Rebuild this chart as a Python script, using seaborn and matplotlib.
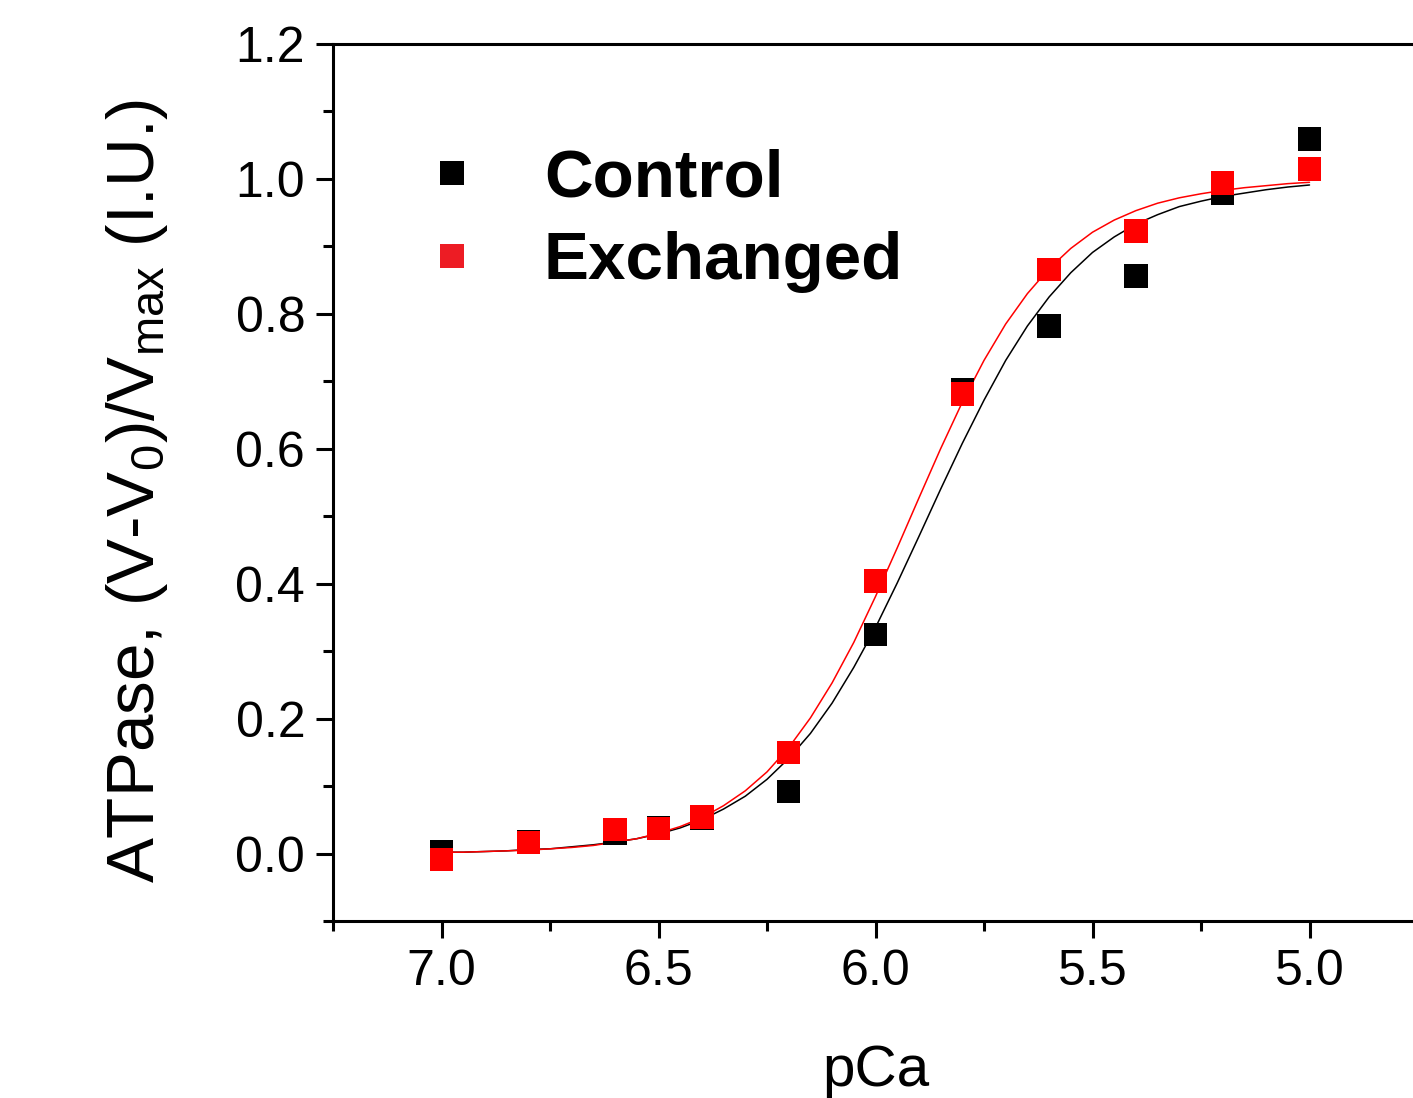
import matplotlib
matplotlib.use("Agg")
import matplotlib.pyplot as plt
from matplotlib.lines import Line2D
from matplotlib.ticker import MultipleLocator, FormatStrFormatter
import pandas as pd
import seaborn as sns

# measured points
pca = [7.0, 6.8, 6.6, 6.5, 6.4, 6.2, 6.0, 5.8, 5.6, 5.4, 5.2, 5.0]
control = [0.003, 0.018, 0.030, 0.039, 0.053, 0.092, 0.325, 0.687, 0.782, 0.856, 0.978, 1.059]
exchanged = [-0.009, 0.016, 0.036, 0.037, 0.054, 0.150, 0.404, 0.681, 0.866, 0.923, 0.994, 1.015]

# fitted curves
curve_pca = [7.00, 6.95, 6.90, 6.85, 6.80, 6.75, 6.70, 6.65, 6.60, 6.55, 6.50,
             6.45, 6.40, 6.35, 6.30, 6.25, 6.20, 6.15, 6.10, 6.05, 6.00,
             5.95, 5.90, 5.85, 5.80, 5.75, 5.70, 5.65, 5.60, 5.55, 5.50,
             5.45, 5.40, 5.35, 5.30, 5.25, 5.20, 5.15, 5.10, 5.05, 5.00]
curve_control = [0.002, 0.002, 0.003, 0.004, 0.006, 0.007, 0.010, 0.013, 0.017, 0.022, 0.029,
                 0.038, 0.050, 0.066, 0.085, 0.110, 0.141, 0.178, 0.223, 0.276, 0.335,
                 0.401, 0.470, 0.540, 0.608, 0.672, 0.731, 0.782, 0.825, 0.861, 0.891,
                 0.914, 0.933, 0.947, 0.959, 0.967, 0.974, 0.979, 0.984, 0.988, 0.991]
curve_exchanged = [0.002, 0.002, 0.003, 0.004, 0.005, 0.007, 0.009, 0.012, 0.017, 0.022, 0.030,
                   0.040, 0.053, 0.071, 0.093, 0.121, 0.157, 0.201, 0.253, 0.313, 0.381,
                   0.453, 0.527, 0.600, 0.669, 0.731, 0.785, 0.830, 0.867, 0.897, 0.921,
                   0.939, 0.953, 0.964, 0.972, 0.978, 0.983, 0.987, 0.990, 0.993, 0.995]

groups = ["Control", "Exchanged"]
colors = {"Control": "black", "Exchanged": "#ff0000"}
legend_colors = {"Control": "black", "Exchanged": "#ed1c24"}

sns.set_style("ticks")
plt.rcParams["font.family"] = ["Liberation Sans", "DejaVu Sans"]
plt.rcParams["mathtext.default"] = "regular"
plt.rcParams["text.color"] = "black"
plt.rcParams["axes.labelcolor"] = "black"
plt.rcParams["xtick.color"] = "black"
plt.rcParams["ytick.color"] = "black"
plt.rcParams["axes.edgecolor"] = "black"

points = pd.DataFrame({
    "pCa": pca + pca,
    "value": control + exchanged,
    "group": ["Control"] * len(pca) + ["Exchanged"] * len(pca),
})

fig = plt.figure(figsize=(14.13, 10.98), dpi=100)
ax = fig.add_axes([333 / 1413, 1 - 921 / 1098, 1085 / 1413, 877 / 1098])

# fit lines
sns.lineplot(x=curve_pca, y=curve_control, color=colors["Control"], lw=1.1,
             estimator=None, sort=False, ax=ax)
sns.lineplot(x=curve_pca, y=curve_exchanged, color=colors["Exchanged"], lw=1.1,
             estimator=None, sort=False, ax=ax)

# data points, red drawn over black
sns.scatterplot(data=points, x="pCa", y="value", hue="group", palette=colors,
                marker="s", s=285, linewidth=0, legend=False, zorder=3, ax=ax)

ax.set_xlim(7.25, 4.75)
ax.set_ylim(-0.1, 1.2)
ax.xaxis.set_major_locator(MultipleLocator(0.5))
ax.xaxis.set_minor_locator(MultipleLocator(0.25))
ax.yaxis.set_major_locator(MultipleLocator(0.2))
ax.yaxis.set_minor_locator(MultipleLocator(0.1))
ax.xaxis.set_major_formatter(FormatStrFormatter("%.1f"))
ax.yaxis.set_major_formatter(FormatStrFormatter("%.1f"))

for side in ["left", "bottom", "top", "right"]:
    ax.spines[side].set_linewidth(2.2)
ax.tick_params(which="major", direction="out", length=12, width=2.2,
               labelsize=36, pad=8)
ax.tick_params(which="minor", direction="out", length=7, width=2.2)
ax.tick_params(top=False, right=False, which="both")

ax.set_xlabel("pCa", fontsize=42)
ax.set_ylabel("ATPase, (V-V$_0$)/V$_{max}$ (I.U.)", fontsize=48.5)
ax.xaxis.set_label_coords(0.5, -0.14)
ax.yaxis.set_label_coords(-0.15, 0.49)

handles = [Line2D([], [], ls="none", marker="s", markersize=17,
                  markerfacecolor=legend_colors[g], markeredgewidth=0)
           for g in groups]
ax.legend(handles, groups, loc="upper left", bbox_to_anchor=(0.0857, 0.881),
          frameon=False, prop={"size": 48.5, "weight": "bold"},
          handlelength=0.78, handletextpad=0.97, labelspacing=0.31,
          borderpad=0, borderaxespad=0)

fig.savefig("out.png", dpi=100)
